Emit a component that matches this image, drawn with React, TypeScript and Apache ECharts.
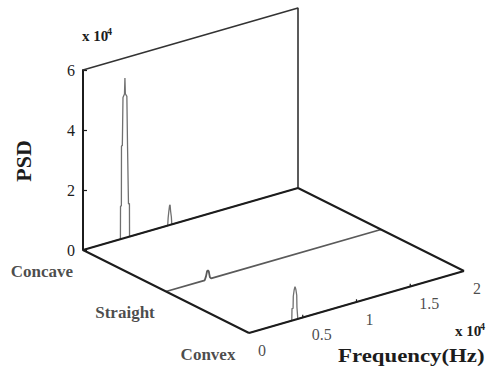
import React, { useEffect, useRef } from "react";
import * as echarts from "echarts";

// ---------- data ----------
const surfaces = ["Concave", "Straight", "Convex"];
const surfaceDepth = [0, 0.5, 1];

// spectra: [frequency Hz, PSD]
const concaveFreq = [0, 3480, 3490, 3570, 3580, 3660, 3720, 3860, 3900, 3940, 4080, 4140, 4160, 4230, 4240, 4320, 4330, 7880, 7920, 7980, 8050, 8100, 8150, 8220, 8260, 20000];
const concavePsd = [0, 0, 11000, 11000, 31000, 31000, 47000, 48000, 53300, 48000, 47000, 31000, 31000, 11000, 11000, 11000, 0, 0, 2500, 4500, 6400, 6700, 4500, 2500, 0, 0];

const straightFreq = [0, 3600, 3720, 3820, 3900, 3980, 4080, 4200, 20000];
const straightPsd = [0, 0, 1200, 2800, 3000, 2600, 600, 0, 0];

const convexFreq = [0, 3980, 4000, 4100, 4120, 4200, 4280, 4360, 4440, 4460, 4520, 4540, 20000];
const convexPsd = [0, 0, 4000, 4000, 8000, 10000, 11000, 10000, 8000, 4000, 4000, 0, 0];

const freqTicks = [0, 5000, 10000, 15000, 20000];
const freqTickLabels = ["0", "0.5", "1", "1.5", "2"];
const psdTicks = [0, 20000, 40000, 60000];

const FREQ_MAX = 20000;
const PSD_MAX = 60000;

// ---------- layout (pixels) ----------
const W = 495;
const H = 366;
const ORIGIN = [83, 250];
const FREQ_VEC = [215, -62];
const DEPTH_VEC = [166, 83];
const PSD_PX = 180;

const kx = FREQ_VEC[0] / FREQ_MAX;
const ky = PSD_PX / PSD_MAX;
const X_MIN = -ORIGIN[0] / kx;
const X_MAX = (W - ORIGIN[0]) / kx;
const Y_MIN = -(H - ORIGIN[1]) / ky;
const Y_MAX = ORIGIN[1] / ky;
const SLOPE = (-FREQ_VEC[1] / FREQ_VEC[0]) * (kx / ky);

function project(f: number, d: number, p: number): [number, number] {
  return [f + (d * DEPTH_VEC[0]) / kx, p + f * SLOPE - (d * DEPTH_VEC[1]) / ky];
}

const FONT = "Liberation Serif, DejaVu Serif, serif";
const INK = "#1c1c1c";

function lineSeries(data: any[], color: string, width: number, z: number) {
  return {
    type: "line",
    xAxisIndex: 0,
    yAxisIndex: 0,
    data,
    symbol: "none",
    silent: true,
    connectNulls: false,
    lineStyle: { color, width },
    z,
  };
}

export default function App() {
  const ref = useRef<HTMLDivElement>(null);
  useEffect(() => {
    if (!ref.current) return;
    const chart = echarts.init(ref.current, undefined, { renderer: "svg" });

    const spectra = [
      { f: concaveFreq, p: concavePsd, color: "#707070", width: 1.3 },
      { f: straightFreq, p: straightPsd, color: "#5a5a5a", width: 1.8 },
      { f: convexFreq, p: convexPsd, color: "#707070", width: 1.3 },
    ];

    const spectrumSeries = spectra.map((s, i) =>
      lineSeries(
        s.f.map((f, j) => project(f, surfaceDepth[i], s.p[j])),
        s.color,
        s.width,
        3
      )
    );

    const frame = [
      lineSeries(
        [project(0, 0, PSD_MAX), project(FREQ_MAX, 0, PSD_MAX), project(FREQ_MAX, 0, 0)],
        "#333",
        1.6,
        4
      ),
      lineSeries([project(0, 0, 0), project(FREQ_MAX, 0, 0)], INK, 2, 5),
      lineSeries([project(0, 0, 0), project(0, 1, 0)], INK, 2, 5),
      lineSeries([project(FREQ_MAX, 0, 0), project(FREQ_MAX, 1, 0)], INK, 2, 5),
      lineSeries([project(0, 1, 0), project(FREQ_MAX, 1, 0)], INK, 2, 5),
    ];

    const tickData: any[] = [];
    freqTicks.slice(1, -1).forEach((t) => {
      tickData.push(project(t, 1, 0));
      tickData.push(project(t, 1, 900));
      tickData.push(["-", "-"]);
    });
    const frontTicks = lineSeries(tickData, INK, 1.2, 5);

    const freqLabelSeries = {
      type: "scatter",
      xAxisIndex: 0,
      yAxisIndex: 0,
      symbolSize: 0,
      silent: true,
      data: freqTicks.map((t, i) => ({ value: project(t, 1, 0), name: freqTickLabels[i] })),
      label: {
        show: true,
        position: [9, 17],
        align: "left",
        verticalAlign: "middle",
        formatter: (p: any) => p.name,
        fontFamily: FONT,
        fontSize: 16,
        color: INK,
      },
      z: 6,
    };

    const depthLabelSeries = {
      type: "scatter",
      xAxisIndex: 0,
      yAxisIndex: 0,
      symbolSize: 0,
      silent: true,
      data: surfaces.map((s, i) => ({ value: project(0, surfaceDepth[i], 0), name: s })),
      label: {
        show: true,
        position: [-41, 21],
        align: "center",
        verticalAlign: "middle",
        formatter: (p: any) => p.name,
        fontFamily: FONT,
        fontSize: 17,
        fontWeight: "bold",
        color: INK,
      },
      z: 6,
    };

    chart.setOption({
      animation: false,
      backgroundColor: "#ffffff",
      textStyle: { fontFamily: FONT },
      grid: [
        { left: 0, top: 0, width: W, height: H, containLabel: false },
        {
          left: ORIGIN[0],
          top: ORIGIN[1] - PSD_PX,
          width: FREQ_VEC[0],
          height: PSD_PX,
          containLabel: false,
        },
      ],
      xAxis: [
        { type: "value", gridIndex: 0, min: X_MIN, max: X_MAX, show: false },
        { type: "value", gridIndex: 1, min: 0, max: 1, show: false },
      ],
      yAxis: [
        { type: "value", gridIndex: 0, min: Y_MIN, max: Y_MAX, show: false },
        {
          type: "value",
          gridIndex: 1,
          min: psdTicks[0],
          max: psdTicks[psdTicks.length - 1],
          interval: psdTicks[1] - psdTicks[0],
          axisLine: { show: true, lineStyle: { color: INK, width: 2 } },
          axisTick: { show: true, inside: true, length: 4, lineStyle: { color: INK, width: 1.2 } },
          splitLine: { show: false },
          axisLabel: {
            margin: 8,
            fontFamily: FONT,
            fontSize: 16,
            color: INK,
            formatter: (v: number) => String(v / 10000),
          },
        },
      ],
      series: [...spectrumSeries, ...frame, frontTicks, freqLabelSeries, depthLabelSeries],
      graphic: [
        {
          type: "text",
          x: 82,
          y: 36,
          style: { text: "x 10", fontFamily: FONT, fontSize: 15, fontWeight: "bold", fill: INK, verticalAlign: "middle" },
        },
        {
          type: "text",
          x: 107,
          y: 31,
          style: { text: "4", fontFamily: FONT, fontSize: 10, fontWeight: "bold", fill: INK, verticalAlign: "middle" },
        },
        {
          type: "text",
          x: 455,
          y: 331,
          style: { text: "x 10", fontFamily: FONT, fontSize: 15, fontWeight: "bold", fill: INK, verticalAlign: "middle" },
        },
        {
          type: "text",
          x: 480,
          y: 326,
          style: { text: "4", fontFamily: FONT, fontSize: 10, fontWeight: "bold", fill: INK, verticalAlign: "middle" },
        },
        {
          type: "text",
          x: 23,
          y: 161,
          rotation: Math.PI / 2,
          style: {
            text: "PSD",
            fontFamily: FONT,
            fontSize: 22,
            fontWeight: "bold",
            fill: INK,
            align: "center",
            verticalAlign: "middle",
          },
        },
        {
          type: "text",
          x: 338,
          y: 356,
          scaleX: 1.17,
          style: {
            text: "Frequency(Hz)",
            fontFamily: FONT,
            fontSize: 19.5,
            fontWeight: "bold",
            fill: INK,
            verticalAlign: "middle",
          },
        },
      ],
    });
    return () => chart.dispose();
  }, []);

  return (
    <div
      ref={ref}
      style={{ position: "fixed", left: 0, top: 0, width: W, height: H, background: "#fff" }}
    />
  );
}
